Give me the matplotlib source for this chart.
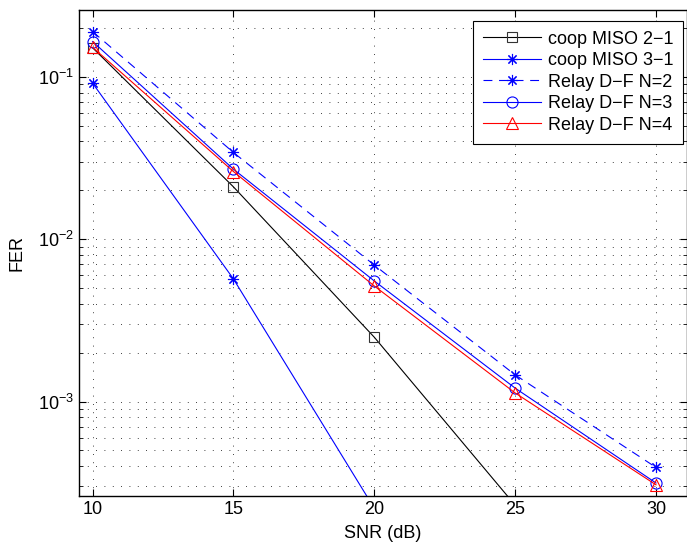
import matplotlib
matplotlib.use("Agg")
import matplotlib.pyplot as plt
from matplotlib.ticker import LogLocator, NullFormatter, FixedLocator

plt.rcParams['font.family'] = ['Liberation Sans', 'DejaVu Sans']
plt.rcParams['mathtext.fontset'] = 'custom'
plt.rcParams['mathtext.rm'] = 'Liberation Sans'
plt.rcParams['mathtext.it'] = 'Liberation Sans'

snr = [10, 15, 20, 25, 30]
miso21 = [0.151, 0.021, 0.00249, 0.00023, 0.00002]
snr_miso31 = [10, 15, 20]
miso31 = [0.0914, 0.00569, 0.00022]
relay2 = [0.19, 0.0342, 0.00693, 0.00146, 0.000393]
relay3 = [0.165, 0.027, 0.00553, 0.00121, 0.000315]
relay4 = [0.152, 0.0261, 0.00515, 0.00113, 0.000307]

labels = ["coop MISO 2\u22121", "coop MISO 3\u22121", "Relay D\u2212F N=2",
          "Relay D\u2212F N=3", "Relay D\u2212F N=4"]
xticks = [10, 15, 20, 25, 30]

fig = plt.figure(figsize=(6.87, 5.44), dpi=100)
ax = fig.add_axes([0.1143, 0.0882, 0.8857, 0.8934])

lw = 0.8
ast = (8, 2, 0)
ax.plot(snr, miso21, color='black', lw=lw, marker='s', ms=7, mfc='none', mec='#333333', mew=0.8, label=labels[0])
ax.plot(snr_miso31, miso31, color='blue', lw=lw, marker=ast, ms=8, mfc='none', mec='blue', mew=0.8, label=labels[1])
ax.plot(snr, relay2, color='blue', lw=lw, dashes=(8, 6), marker=ast, ms=8, mfc='none', mec='blue', mew=0.8, label=labels[2])
ax.plot(snr, relay3, color='blue', lw=lw, marker='o', ms=8, mfc='none', mec='blue', mew=0.8, label=labels[3])
ax.plot(snr, relay4, color='red', lw=lw, marker='^', ms=9, mfc='none', mec='red', mew=0.8, label=labels[4])

ax.set_yscale('log')
ax.set_xlim(9.5, 31.1)
ax.set_ylim(2.62e-4, 0.258)
ax.xaxis.set_major_locator(FixedLocator(xticks))
ax.yaxis.set_minor_locator(LogLocator(base=10, subs=range(2, 10), numticks=20))
ax.yaxis.set_minor_formatter(NullFormatter())
ax.set_yticks([1e-3, 1e-2, 1e-1])
ax.set_yticklabels([r'$10^{-3}$', r'$10^{-2}$', r'$10^{-1}$'])

ax.tick_params(which='both', direction='in', top=True, right=True, labelsize=13)
ax.tick_params(which='major', length=5, width=0.8)
ax.tick_params(which='minor', length=3, width=0.6)
for s in ax.spines.values():
    s.set_linewidth(1.0)

ax.grid(True, which='major', color='black', ls=(0, (1, 9)), lw=0.6)
ax.grid(True, which='minor', axis='y', color='black', ls=(0, (1, 9)), lw=0.6)

ax.set_xlabel('SNR (dB)', fontsize=13, labelpad=5)
ax.set_ylabel('FER', fontsize=13, labelpad=9)

leg = ax.legend(loc='upper right', bbox_to_anchor=(0.994, 0.978), fontsize=13,
                fancybox=False, framealpha=1, edgecolor='black', borderpad=0.55,
                labelspacing=0.25, handlelength=3.2, handletextpad=0.4, borderaxespad=0)
leg.get_frame().set_linewidth(0.8)

fig.savefig('out.png', dpi=100)
